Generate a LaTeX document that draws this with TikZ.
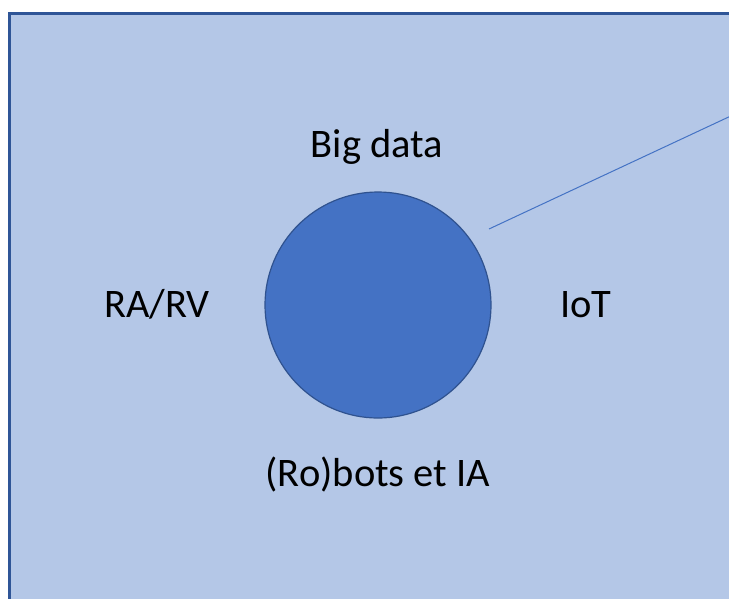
\documentclass[tikz,border=0pt]{standalone}
\usepackage{fontspec}
\setmainfont{Carlito}
\definecolor{panelblue}{HTML}{B4C7E7}
\definecolor{edgeblue}{HTML}{2F5597}
\definecolor{coreblue}{HTML}{4472C4}
\definecolor{corerim}{HTML}{2F528F}
\begin{document}
\begin{tikzpicture}[x=1pt,y=-1pt,inner sep=0pt,
  lbl/.style={anchor=base,font=\fontsize{40.5}{48}\selectfont}]

\clip (0,0) rectangle (729,598);
\useasboundingbox (0,0) rectangle (729,598);
\draw[edgeblue,line width=2.6pt,fill=panelblue] (9.5,13.5) rectangle (760,640);

\node(core) at (378,305) [circle,minimum size=226pt,fill=coreblue,draw=corerim,line width=1.2pt] {};
\node(big) at (377,157) [lbl] {Big data};
\node(ra) at (157,317) [lbl] {RA/RV};
\node(iot) at (586,317) [lbl] {IoT};
\node(bots) at (378,486) [lbl] {(Ro)bots et IA};

\coordinate(tip) at (489,229);
\coordinate(far) at (780,93);
\draw[coreblue,line width=1pt] (tip) -- (far);

\end{tikzpicture}
\end{document}
